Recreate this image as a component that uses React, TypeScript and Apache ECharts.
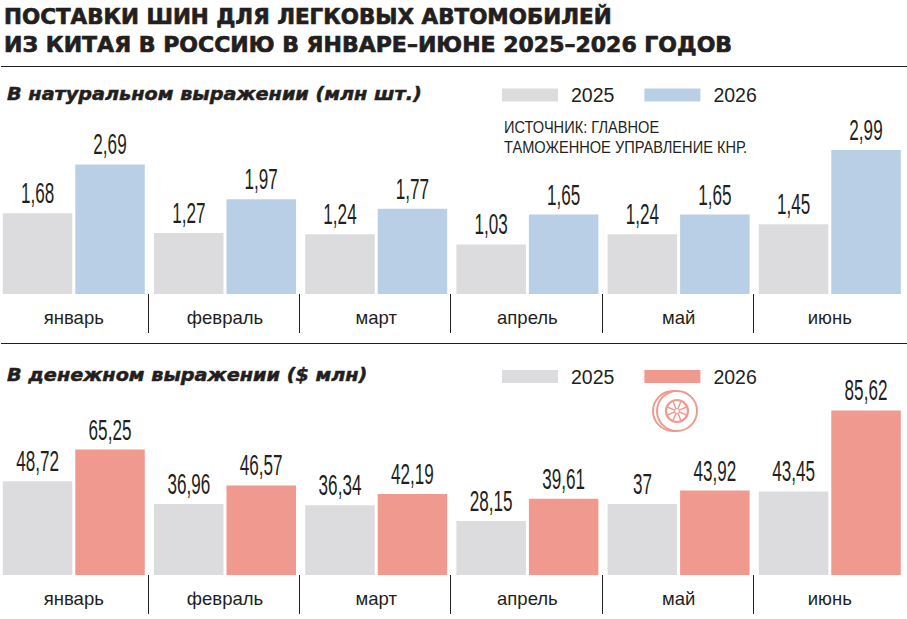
import React, { useEffect, useRef } from "react";
import * as echarts from "echarts";

const months = ["январь", "февраль", "март", "апрель", "май", "июнь"];
const units2025 = [1.68, 1.27, 1.24, 1.03, 1.24, 1.45];
const units2026 = [2.69, 1.97, 1.77, 1.65, 1.65, 2.99];
const money2025 = [48.72, 36.96, 36.34, 28.15, 37, 43.45];
const money2026 = [65.25, 46.57, 42.19, 39.61, 43.92, 85.62];
const titleLines = ["ПОСТАВКИ ШИН ДЛЯ ЛЕГКОВЫХ АВТОМОБИЛЕЙ", "ИЗ КИТАЯ В РОССИЮ В ЯНВАРЕ–ИЮНЕ 2025–2026 ГОДОВ"];
const sourceLines = ["ИСТОЧНИК: ГЛАВНОЕ", "ТАМОЖЕННОЕ УПРАВЛЕНИЕ КНР."];

const INK = "#231f20";
const GREY = "#dcdcde";
const BLUE = "#b9cfe5";
const SALMON = "#f09a8f";
const NARROW = '"Liberation Sans", sans-serif';
const WIDE = '"DejaVu Sans", sans-serif';
const SHIFT = 3; // the chart div starts 3px left of the page so the first band can overhang

const fmt = (v: number) => String(v).replace(".", ",");

const bar = (name: string, data: number[], color: string, axis: number) => ({
  type: "bar", name, data, xAxisIndex: axis, yAxisIndex: axis,
  barWidth: 69.5, barGap: "4.3%", itemStyle: { color }, silent: true,
});

const labels = (data: number[], axis: number, shift: number) => ({
  type: "custom", data: data.map((v, i) => [i, v]), xAxisIndex: axis, yAxisIndex: axis, silent: true,
  renderItem: (_: any, api: any) => {
    const p = api.coord([api.value(0), api.value(1)]);
    return {
      type: "text", x: p[0] + shift, y: p[1] - 5.5, scaleX: 0.57,
      style: {
        text: fmt(api.value(1)), fill: INK,
        font: `30px ${NARROW}`, textAlign: "center", textVerticalAlign: "bottom",
      },
    };
  },
});

const xAxis = (gridIndex: number) => ({
  type: "category", gridIndex, data: months,
  axisLine: { show: false }, axisTick: { show: false },
  axisLabel: { color: INK, fontFamily: NARROW, fontSize: 18.5, margin: 14 },
});
const yAxis = (gridIndex: number, max: number) => ({
  type: "value", gridIndex, min: 0, max, show: false, splitLine: { show: false },
});

const legend = (top: number, color: string) => ({
  left: 502 + SHIFT, top, padding: 0, itemWidth: 56, itemHeight: 13, itemGap: 30, icon: "rect",
  selectedMode: false,
  textStyle: { color: INK, fontFamily: NARROW, fontSize: 19.5, padding: [0, 0, 0, 8] },
  data: [
    { name: "2025", itemStyle: { color: GREY } },
    { name: "2026", itemStyle: { color } },
  ],
});

const rule = (y: number) => ({
  type: "line", shape: { x1: 1, y1: y, x2: 907, y2: y }, style: { stroke: INK, lineWidth: 1 },
});
const separators = (y1: number, y2: number) =>
  months.slice(1).map((_, i) => {
    const x = Math.round(-2.1 + 151.2 * (i + 1)) - 0.5;
    return { type: "line", shape: { x1: x, y1, x2: x, y2 }, style: { stroke: INK, lineWidth: 1 } };
  });
const textEl = (text: string, x: number, y: number, font: string, scaleX = 1, bold = 0) => ({
  type: "text", x, y, scaleX,
  style: { text, font, fill: INK, stroke: bold ? INK : undefined, lineWidth: bold, textVerticalAlign: "middle" },
});

const ring = (cx: number, cy: number, rx: number, ry: number, lw: number) => ({
  type: "ellipse", shape: { cx, cy, rx, ry }, style: { fill: "none", stroke: SALMON, lineWidth: lw },
});
const spokes = [0, 1, 2, 3, 4, 5, 6, 7].map((k) => {
  const a = (k * Math.PI) / 4 + Math.PI / 8;
  return {
    type: "line",
    shape: { x1: 677 + 3 * Math.cos(a), y1: 411 + 3 * Math.sin(a), x2: 677 + 11 * Math.cos(a), y2: 411 + 11 * Math.sin(a) },
    style: { stroke: SALMON, lineWidth: 1.5 },
  };
});
const wheel = [
  { type: "arc", shape: { cx: 673, cy: 411, r: 20, startAngle: Math.PI / 2, endAngle: (3 * Math.PI) / 2 }, style: { fill: "none", stroke: SALMON, lineWidth: 2 } },
  { type: "line", shape: { x1: 673, y1: 391, x2: 677, y2: 391 }, style: { stroke: SALMON, lineWidth: 2 } },
  { type: "line", shape: { x1: 673, y1: 431, x2: 677, y2: 431 }, style: { stroke: SALMON, lineWidth: 2 } },
  ring(677, 411, 20, 20, 2),
  ring(677, 411, 11, 11, 2.2),
  ring(677, 411, 2.5, 2.5, 1.2),
  ...spokes,
];

export default function App() {
  const ref = useRef<HTMLDivElement>(null);
  useEffect(() => {
    document.body.style.margin = "0";
    document.body.style.overflow = "hidden";
    const chart = echarts.init(ref.current!, null, { renderer: "svg" });
    chart.setOption({
      animation: false,
      grid: [
        { left: SHIFT - 1.8, width: 907.2, top: 140, height: 154 },
        { left: SHIFT - 1.8, width: 907.2, top: 402, height: 173 },
      ],
      xAxis: [xAxis(0), xAxis(1)],
      yAxis: [yAxis(0, 3.2), yAxis(1, 90)],
      legend: [legend(85, BLUE), legend(366.5, SALMON)],
      series: [
        bar("2025", units2025, GREY, 0),
        bar("2026", units2026, BLUE, 0),
        bar("2025", money2025, GREY, 1),
        bar("2026", money2026, SALMON, 1),
        labels(units2025, 0, -36.2),
        labels(units2026, 0, 36.2),
        labels(money2025, 1, -36.2),
        labels(money2026, 1, 36.2),
      ],
      graphic: [
        {
          type: "group",
          x: SHIFT,
          children: [
            textEl(titleLines[0], 4, 16, `bold 22px ${WIDE}`, 0.975, 0.7),
            textEl(titleLines[1], 4, 44, `bold 22px ${WIDE}`, 1.0, 0.7),
            rule(66.5),
            rule(343.5),
            textEl("В натуральном выражении (млн шт.)", 7, 93, `italic bold 18.5px ${WIDE}`, 1.04, 0.5),
            textEl("В денежном выражении ($ млн)", 7, 374, `italic bold 18.5px ${WIDE}`, 1.04, 0.5),
            textEl(sourceLines[0], 504, 127, `17px ${NARROW}`, 0.86),
            textEl(sourceLines[1], 504, 147, `17px ${NARROW}`, 0.86),
            ...separators(294, 333),
            ...separators(575, 614),
            ...wheel,
          ],
        },
      ],
    });
    return () => chart.dispose();
  }, []);
  return <div ref={ref} style={{ width: 913, height: 619, marginLeft: -SHIFT }} />;
}
